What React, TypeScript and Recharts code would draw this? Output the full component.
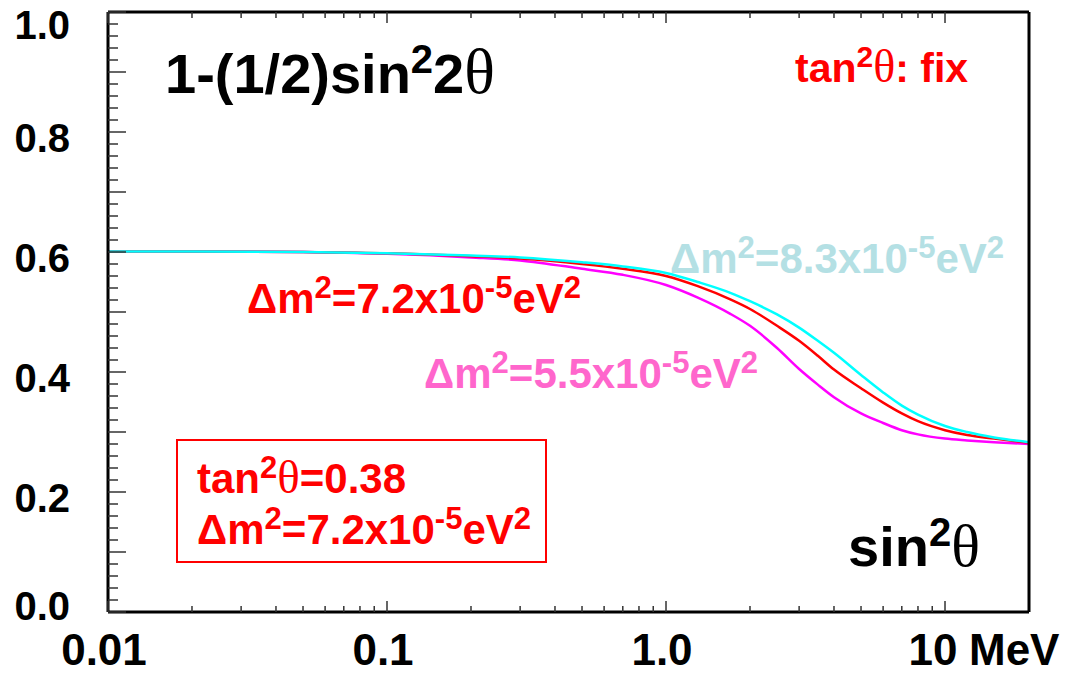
import { Line, LineChart, XAxis, YAxis } from 'recharts';

// neutrino energy in MeV
const energies = [0.01, 0.02, 0.05, 0.1, 0.2, 0.3, 0.5, 0.7, 1, 1.3, 1.7, 2, 2.5, 3, 3.5, 4, 5, 6, 7, 8, 10, 12, 15, 20];
// survival probability, one list per dm^2
const pee83 = [0.601, 0.601, 0.6, 0.598, 0.594, 0.591, 0.583, 0.576, 0.565, 0.55, 0.532, 0.518, 0.496, 0.474, 0.452, 0.432, 0.395, 0.366, 0.344, 0.329, 0.31, 0.3, 0.291, 0.283];
const pee72 = [0.601, 0.601, 0.6, 0.598, 0.593, 0.589, 0.58, 0.572, 0.56, 0.543, 0.521, 0.505, 0.477, 0.452, 0.427, 0.404, 0.373, 0.349, 0.331, 0.318, 0.303, 0.295, 0.289, 0.282];
const pee55 = [0.601, 0.601, 0.6, 0.597, 0.591, 0.586, 0.572, 0.562, 0.545, 0.524, 0.497, 0.477, 0.44, 0.405, 0.379, 0.358, 0.331, 0.315, 0.303, 0.296, 0.289, 0.286, 0.283, 0.28];

const xTicks = [
  0.01, 0.02, 0.03, 0.04, 0.05, 0.06, 0.07, 0.08, 0.09,
  0.1, 0.2, 0.3, 0.4, 0.5, 0.6, 0.7, 0.8, 0.9,
  1, 2, 3, 4, 5, 6, 7, 8, 9, 10,
];
const xMajor = [0.01, 0.1, 1, 10];
const xLabels = ['0.01', '0.1', '1.0', '10'];
const yLabels = ['0.0', '0.2', '0.4', '0.6', '0.8', '1.0'];
const yTicks = Array.from({ length: 51 }, (_, i) => i / 50);

const data = energies.map((e, i) => ({ e, a: pee83[i], b: pee72[i], c: pee55[i] }));

const SANS = 'Liberation Sans, Arial, Helvetica, sans-serif';
const SERIF = 'Liberation Serif, DejaVu Serif, serif';
const TICK = '#333';

const majorIndex = (v: number) => xMajor.findIndex((m) => Math.abs(m - v) < m * 1e-6);

const BottomTick = (props: any) => {
  const { x, y, payload } = props;
  const mi = majorIndex(payload.value);
  const len = mi >= 0 ? 11 : 6;
  return (
    <g>
      <line x1={x} x2={x} y1={y} y2={y - len} stroke={TICK} strokeWidth={1.5} />
      {mi >= 0 && mi < 3 && (
        <text x={x - 4} y={y + 53} textAnchor="middle" fontSize={44} fontWeight="bold" fontFamily={SANS} fill="#000">
          {xLabels[mi]}
        </text>
      )}
      {mi === 3 && (
        <>
          <text x={x - 12} y={y + 53} textAnchor="middle" fontSize={44} fontWeight="bold" fontFamily={SANS} fill="#000">
            {xLabels[mi]}
          </text>
          <text x={x + 24} y={y + 53} textAnchor="start" fontSize={44} fontWeight="bold" fontFamily={SANS} fill="#000">
            MeV
          </text>
        </>
      )}
    </g>
  );
};

const TopTick = (props: any) => {
  const { x, y, payload } = props;
  const len = majorIndex(payload.value) >= 0 ? 11 : 6;
  return <line x1={x} x2={x} y1={y} y2={y + len} stroke={TICK} strokeWidth={1.5} />;
};

const LeftTick = (props: any) => {
  const { x, y, payload } = props;
  const k = Math.round(payload.value * 50);
  const len = k % 5 === 0 ? 18 : 10;
  let ly = y + 6;
  if (k === 50) ly = y + 13;
  if (k === 0) ly = y - 6;
  return (
    <g>
      <line x1={x} x2={x + len} y1={y} y2={y} stroke={TICK} strokeWidth={1.5} />
      {k % 10 === 0 && (
        <text x={x - 38} y={ly} dy="0.36em" textAnchor="end" fontSize={40} fontWeight="bold" fontFamily={SANS} fill="#000">
          {yLabels[k / 10]}
        </text>
      )}
    </g>
  );
};

const RightTick = (props: any) => {
  const { x, y, payload } = props;
  const k = Math.round(payload.value * 50);
  const len = k % 5 === 0 ? 15 : 9;
  return <line x1={x} x2={x - len} y1={y} y2={y} stroke={TICK} strokeWidth={1.5} />;
};

const DmText = ({ x, y, size, fill, value }: { x: number; y: number; size: number; fill: string; value: string }) => {
  const up = size * 0.36;
  const small = size * 0.74;
  return (
    <text x={x} y={y} fontSize={size} fill={fill} fontWeight="bold" fontFamily={SANS}>
      Δm
      <tspan dy={-up} fontSize={small}>2</tspan>
      <tspan dy={up}>={value}x10</tspan>
      <tspan dy={-up} fontSize={small}>-5</tspan>
      <tspan dy={up}>eV</tspan>
      <tspan dy={-up} fontSize={small}>2</tspan>
    </text>
  );
};

const Annotations = () => (
  <svg width={1070} height={676} style={{ position: 'absolute', left: 0, top: 0, pointerEvents: 'none' }}>
    <text x={165} y={93} fontSize={56} fontWeight="bold" fontFamily={SANS} fill="#000">
      1-(1/2)sin
      <tspan dy={-20} fontSize={40}>2</tspan>
      <tspan dy={20}>2</tspan>
      <tspan fontFamily={SERIF} fontWeight="normal" fontSize={64}>θ</tspan>
    </text>
    <text x={795} y={82} fontSize={41} fontWeight="bold" fontFamily={SANS} fill="#ff0000">
      tan
      <tspan dy={-15} fontSize={30}>2</tspan>
      <tspan dy={15} fontFamily={SERIF} fontWeight="normal" fontSize={46}>θ</tspan>
      <tspan>: fix</tspan>
    </text>
    <DmText x={670} y={273} size={42} fill="#b4e0e4" value="8.3" />
    <DmText x={247} y={313} size={42} fill="#ff0000" value="7.2" />
    <DmText x={424} y={388} size={42} fill="#ff66cc" value="5.5" />
    <rect x={177} y={440} width={369} height={122} fill="none" stroke="#ff0000" strokeWidth={2} />
    <text x={197} y={493} fontSize={42} fontWeight="bold" fontFamily={SANS} fill="#ff0000">
      tan
      <tspan dy={-15} fontSize={31}>2</tspan>
      <tspan dy={15} fontFamily={SERIF} fontWeight="normal" fontSize={47}>θ</tspan>
      <tspan>=0.38</tspan>
    </text>
    <DmText x={197} y={544} size={42} fill="#ff0000" value="7.2" />
    <text x={848} y={566} fontSize={56} fontWeight="bold" fontFamily={SANS} fill="#000">
      sin
      <tspan dy={-20} fontSize={40}>2</tspan>
      <tspan dy={20} fontFamily={SERIF} fontWeight="normal" fontSize={60}>θ</tspan>
    </text>
  </svg>
);

export default function App() {
  return (
    <div style={{ position: 'fixed', left: 0, top: 0, width: 1070, height: 676, background: '#fff' }}>
      <LineChart width={1070} height={676} data={data} margin={{ top: 0, right: 0, bottom: 0, left: 8 }}>
        <XAxis
          dataKey="e"
          type="number"
          scale="log"
          domain={[0.01, 20]}
          allowDataOverflow
          ticks={xTicks}
          interval={0}
          height={64}
          tickSize={0}
          tickMargin={0}
          tick={BottomTick}
          axisLine={{ stroke: '#000', strokeWidth: 3 }}
        />
        <XAxis
          xAxisId="top"
          orientation="top"
          dataKey="e"
          type="number"
          scale="log"
          domain={[0.01, 20]}
          allowDataOverflow
          ticks={xTicks}
          interval={0}
          height={12}
          tickSize={0}
          tickMargin={0}
          tick={TopTick}
          axisLine={{ stroke: '#000', strokeWidth: 3 }}
        />
        <YAxis
          type="number"
          domain={[0, 1]}
          ticks={yTicks}
          interval={0}
          width={100}
          tickSize={0}
          tickMargin={0}
          tick={LeftTick}
          axisLine={{ stroke: '#000', strokeWidth: 3 }}
        />
        <YAxis
          yAxisId="right"
          orientation="right"
          type="number"
          domain={[0, 1]}
          ticks={yTicks}
          interval={0}
          width={41}
          tickSize={0}
          tickMargin={0}
          tick={RightTick}
          axisLine={{ stroke: '#000', strokeWidth: 3 }}
        />
        <Line dataKey="c" type="monotone" stroke="#ff00ff" strokeWidth={2.5} dot={false} isAnimationActive={false} />
        <Line dataKey="b" type="monotone" stroke="#ff0000" strokeWidth={2.5} dot={false} isAnimationActive={false} />
        <Line dataKey="a" type="monotone" stroke="#00ffff" strokeWidth={2.5} dot={false} isAnimationActive={false} />
      </LineChart>
      <Annotations />
    </div>
  );
}
